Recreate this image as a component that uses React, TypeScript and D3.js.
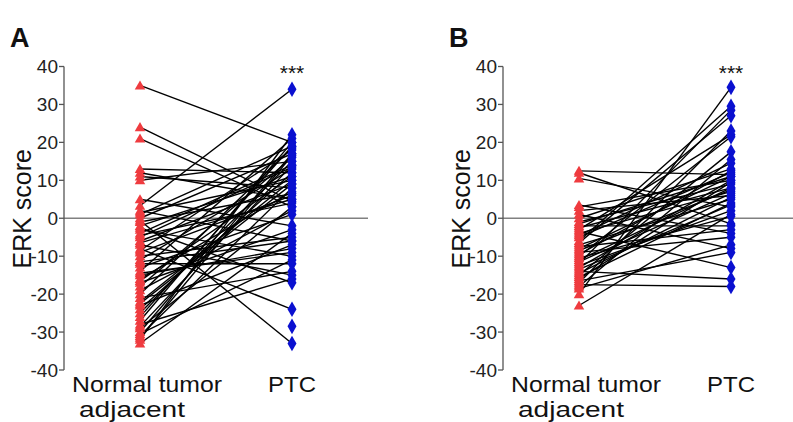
import React from "react";
import * as d3 from "d3";

const categories = ["Normal tumor adjacent", "PTC"];
const yTicks = [40, 30, 20, 10, 0, -10, -20, -30, -40];

// Panel A pairs: [normal, PTC]
const pairsA: [number, number][] = [
  [35, 20], [24, 4.5], [21, 3], [13, 12], [12, 5], [11, 8], [10, 15], [5, -2], [3.3, 34],
  [2, -6], [1, 19], [0, 17], [-0.6, -33], [-2, 11], [-3, -10], [-4, 14], [-4.5, 4], [-8, -24],
  [-6, 9], [-7, -15], [-8.5, 18], [-9, 6], [-10, -5], [-11, 13], [-12, -12], [-13, 1],
  [-14, 21], [-15, -8], [-16, 7], [-17, -3], [-18, 16], [-21, -14], [-22, 10], [-23, -7],
  [-24, 12], [-27, 20], [-28, -16], [-29, 3], [-30, 17], [-30.5, -11], [-31, 8], [-32, 22],
  [-33, -4], [-2.5, -17], [-6.5, 5], [-14.5, -9], [-19, 2], [-25, 15], [-26, 19], [-11.5, -6],
  [1.5, 10], [-1, 6.5], [-5, 13.5], [-16.5, 11], [-20, 18.5], [-22.5, 9], [-28.5, 14], [-31.5, 16.5],
];
const unpairedA = [-28.5];

// Panel B pairs: [normal, PTC]
const pairsB: [number, number][] = [
  [12.5, 11.5], [12, -1.5], [10.5, 3], [3.5, -4], [3, 10], [2, 6], [1, -8], [0, 13], [-1, 9],
  [-2, -2], [-3, 22], [-3.5, -13], [-4, 7], [-5, 12], [-6, 29.5], [-7, 5], [-8, 11], [-9, -5],
  [-10, 21.5], [-11, 8], [-12, 28.5], [-12.5, 2], [-13, 10], [-14, -16], [-15, 17.5],
  [-15.5, 4], [-16, 9.5], [-17, 23], [-17.5, -18], [-18, 15.5], [-20, 34.5], [-23, 1],
  [-6.5, 27], [-9.5, 12.5], [-11.5, 6.5], [-2.5, 8], [-13.5, 3.5], [-16.5, -9], [-7.5, -3],
  [-4.5, 14.5], [-10.5, 0.5], [-14.5, 5.5], [-18.5, -7], [-1.5, 11], [-8.5, 7.5],
];

const RED = "#ef3b3f";
const BLUE = "#0a10d0";

type PanelProps = {
  label: string;
  pairs: [number, number][];
  unpaired: number[];
  axisX: number;
  leftX: number;
  rightX: number;
  zeroEnd: number;
  labelX: number;
};

const y = d3.scaleLinear().domain([-40, 40]).range([370, 66.5]);
const tri = d3.symbol().type(d3.symbolTriangle).size(48)();
const dia = d3.symbol().type(d3.symbolDiamond).size(70)();

function Panel({ label, pairs, unpaired, axisX, leftX, rightX, zeroEnd, labelX }: PanelProps) {
  const x = d3.scalePoint<string>().domain(categories).range([leftX, rightX]);
  const xl = x(categories[0])!;
  const xr = x(categories[1])!;
  const font = "Arial, 'Liberation Sans', sans-serif";
  return (
    <g>
      <text x={labelX} y={47} fontFamily={font} fontWeight="bold" fontSize={27} fill="#111">{label}</text>
      {/* zero line */}
      <line x1={axisX} x2={zeroEnd} y1={y(0)} y2={y(0)} stroke="#808080" strokeWidth={1.3} />
      {/* axis */}
      <line x1={axisX} x2={axisX} y1={y(40)} y2={y(-40)} stroke="#555" strokeWidth={1.3} />
      {yTicks.map((t) => (
        <g key={t}>
          <line x1={axisX - 5} x2={axisX} y1={y(t)} y2={y(t)} stroke="#555" strokeWidth={1.3} />
          <text x={axisX - 6} y={y(t)} dy="0.36em" textAnchor="end" fontFamily={font} fontSize={19} fill="#222">{t}</text>
        </g>
      ))}
      <text transform={`translate(${axisX - 33},${y(2.5)}) rotate(-90)`} textAnchor="middle" fontFamily={font} fontSize={25} fill="#111">ERK score</text>
      {/* category labels */}
      <text x={xl + 7} y={392} textAnchor="middle" fontFamily={font} fontSize={22} fill="#111"
        textLength={150} lengthAdjust="spacingAndGlyphs">Normal tumor</text>
      <text x={xl - 8} y={417} textAnchor="middle" fontFamily={font} fontSize={22} fill="#111"
        textLength={106} lengthAdjust="spacingAndGlyphs">adjacent</text>
      <text x={xr} y={392} textAnchor="middle" fontFamily={font} fontSize={22} fill="#111"
        textLength={48} lengthAdjust="spacingAndGlyphs">PTC</text>
      <text x={xr} y={80} textAnchor="middle" fontFamily={font} fontSize={21} fill="#111">***</text>
      {/* lines */}
      {pairs.map((p, i) => (
        <line key={"l" + i} x1={xl} x2={xr} y1={y(p[0])} y2={y(p[1])} stroke="#000" strokeWidth={1.4} />
      ))}
      {pairs.map((p, i) => (
        <path key={"t" + i} d={tri} transform={`translate(${xl},${y(p[0]) + 1})`} fill={RED} />
      ))}
      {pairs.map((p, i) => (
        <path key={"d" + i} d={dia} transform={`translate(${xr},${y(p[1])})`} fill={BLUE} />
      ))}
      {unpaired.map((v, i) => (
        <path key={"u" + i} d={dia} transform={`translate(${xr},${y(v)})`} fill={BLUE} />
      ))}
    </g>
  );
}

export default function App() {
  return (
    <svg width={793} height={422} style={{ position: "absolute", left: 0, top: 0, background: "#fff" }}>
      <rect width={793} height={422} fill="#fff" />
      <Panel label="A" pairs={pairsA} unpaired={unpairedA} axisX={64} leftX={140} rightX={292} zeroEnd={368} labelX={10} />
      <Panel label="B" pairs={pairsB} unpaired={[]} axisX={503} leftX={579} rightX={731} zeroEnd={793} labelX={449} />
    </svg>
  );
}
